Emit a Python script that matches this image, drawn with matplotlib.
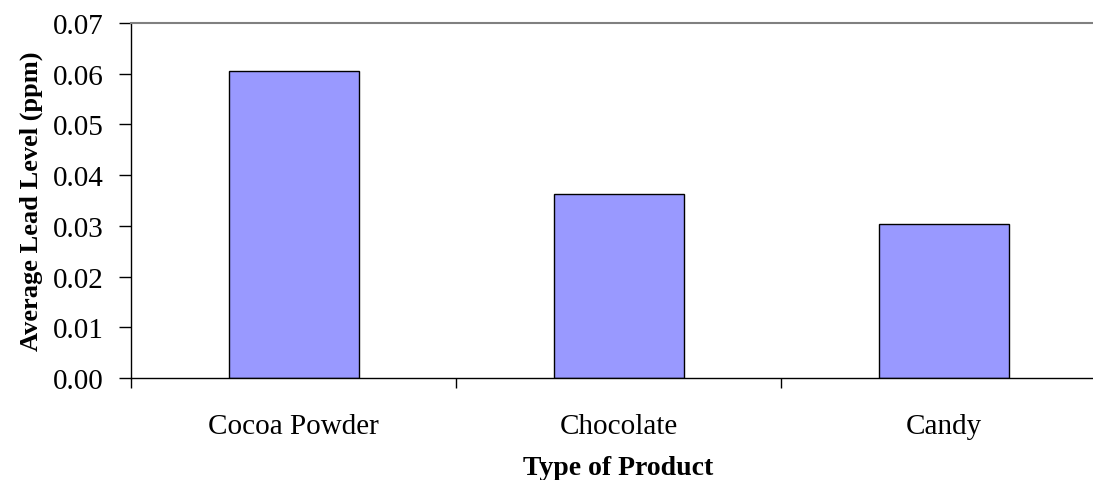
import numpy as np
import matplotlib.pyplot as plt

# Average lead level by product type
products = ["Cocoa Powder", "Chocolate", "Candy"]
lead_ppm = [0.0605, 0.0362, 0.0304]
yticks = [0.00, 0.01, 0.02, 0.03, 0.04, 0.05, 0.06, 0.07]

plt.rcParams['font.family'] = ['Liberation Serif', 'DejaVu Serif']

fig = plt.figure(figsize=(10.93, 4.81), dpi=100)
ax = fig.add_axes([131 / 1093, 102 / 481, 975 / 1093, 355 / 481])

x = np.arange(len(products))
ax.bar(x, lead_ppm, width=0.4, color="#9999FF", edgecolor="black", linewidth=1)

ax.set_xlim(-0.5, len(products) - 0.5)
ax.set_ylim(0, 0.07)
ax.set_yticks(yticks)
ax.set_yticklabels([f"{v:.2f}" for v in yticks])

# category labels centred, ticks between categories
ax.set_xticks(np.arange(len(products) + 1) - 0.5)
ax.set_xticklabels([])
ax.set_xticks(x, minor=True)
ax.set_xticklabels(products, minor=True)
ax.tick_params(axis='x', which='minor', length=0, pad=25, labelsize=21)
ax.tick_params(axis='x', which='major', length=7, width=1, direction='out')
ax.tick_params(axis='y', length=8.5, width=1, direction='out', labelsize=21, pad=11)

for s in ["left", "bottom"]:
    ax.spines[s].set_color("black")
    ax.spines[s].set_linewidth(1)
ax.spines["top"].set_color("#808080")
ax.spines["top"].set_linewidth(1.5)
ax.spines["right"].set_color("#808080")

ax.set_xlabel("Type of Product", fontsize=20, fontweight="bold", labelpad=12)
ax.set_ylabel("Average Lead Level (ppm)", fontsize=19, fontweight="bold", labelpad=7)

fig.savefig("out.png", dpi=100)
